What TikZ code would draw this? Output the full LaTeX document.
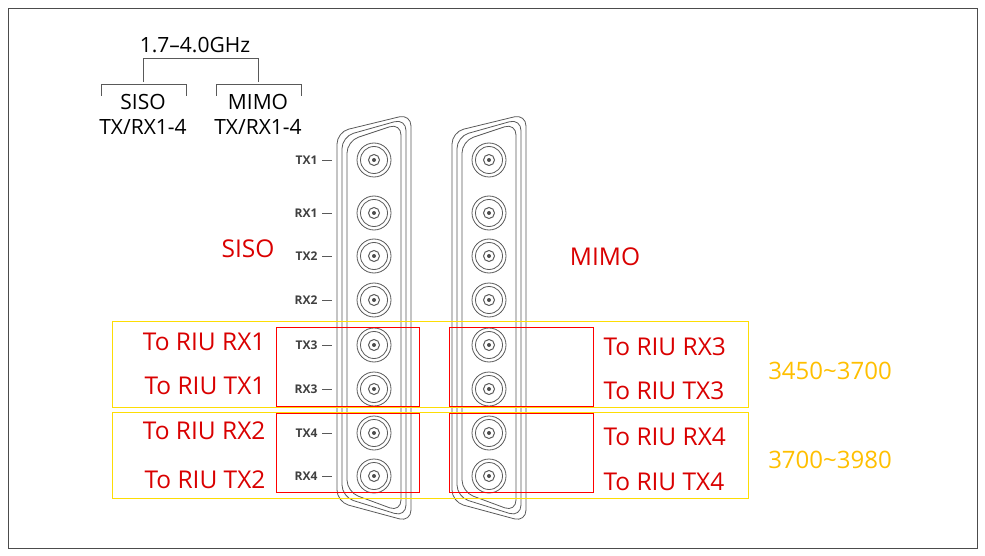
\documentclass[tikz,border=0pt]{standalone}
\usepackage{fontspec}
\setmainfont{Open Sans}
\begin{document}
\begin{tikzpicture}[x=1pt,y=-1pt,
 red/.style={text=red!85!black,font=\fontsize{24.5}{26}\selectfont},
 yel/.style={text=orange!50!yellow,font=\fontsize{24}{26}\selectfont},
 blk/.style={font=\fontsize{21}{25}\selectfont},
 pin/.style={font=\fontsize{12}{13}\selectfont\bfseries,text=black!75},
 ln/.style={black!65,line width=0.8pt},
 rbox/.style={draw=red,line width=0.8pt},
 ybox/.style={draw=yellow!80!orange,line width=0.8pt}]
\path[use as bounding box] (0,0) rectangle (985,556);
\draw[black!70,line width=0.8pt] (8,8) rectangle (977,548);
% tree
\node[blk] (f) at (195,45) {1.7–4.0GHz};
\node[blk,align=center] (s) at (143,114) {SISO\\TX/RX1-4};
\node[blk,align=center] (m) at (258,114) {MIMO\\TX/RX1-4};
\draw[ln] (143,82)--(143,58)--(258,58)--(258,82);
\draw[ln] (101,96)--(101,84)--(186,84)--(186,96);
\draw[ln] (216,96)--(216,84)--(301,84)--(301,96);
% connectors
\foreach \cx/\nm in {374/L,489/R}{
 \foreach \d in {0,5,10}{
  \draw[ln,rounded corners=12] (\cx-37+\d,502-\d)--(\cx-37+\d,132+\d*0.9)--(\cx+37-\d,114+\d*0.9)--(\cx+37-\d,522-\d)--cycle;
 }
 \foreach \y [count=\i] in {160,213,256,300,345,389,433,476}{
  \draw[ln] (\cx,\y) circle (17);
  \draw[ln] (\cx,\y) circle (13.5);
  \draw[ln,line width=1pt] (\cx,\y) circle (5.5);
  \fill[black!70] (\cx,\y) circle (2);
  \coordinate (\nm\i) at (\cx,\y);
 }
}
\foreach \t/\y in {TX1/160,RX1/213,TX2/256,RX2/300,TX3/345,RX3/389,TX4/433,RX4/476}{
 \node[pin,anchor=east] (p\t) at (321,\y) {\t};
 \draw[ln] (p\t.east)++(1,0)--++(10,0);
}
% boxes
\draw[ybox] (112,321) rectangle (748,407);
\draw[ybox] (112,412) rectangle (748,498);
\draw[rbox] (276,327) rectangle (419,406);
\draw[rbox] (276,413) rectangle (419,492);
\draw[rbox] (449,327) rectangle (593,406);
\draw[rbox] (449,413) rectangle (593,492);
% texts
\node[red] (siso) at (248,249) {SISO};
\node[red] (mimo) at (605,257) {MIMO};
\node[red,anchor=east] (a1) at (269,342) {To RIU RX1};
\node[red,anchor=east] (a2) at (269,386) {To RIU TX1};
\node[red,anchor=east] (a3) at (269,431) {To RIU RX2};
\node[red,anchor=east] (a4) at (269,480) {To RIU TX2};
\node[red,anchor=west] (b1) at (600,347) {To RIU RX3};
\node[red,anchor=west] (b2) at (600,391) {To RIU TX3};
\node[red,anchor=west] (b3) at (600,437) {To RIU RX4};
\node[red,anchor=west] (b4) at (600,482) {To RIU TX4};
\node[yel] (y1) at (830,371) {3450\textasciitilde3700};
\node[yel] (y2) at (830,460) {3700\textasciitilde3980};
\end{tikzpicture}
\end{document}
